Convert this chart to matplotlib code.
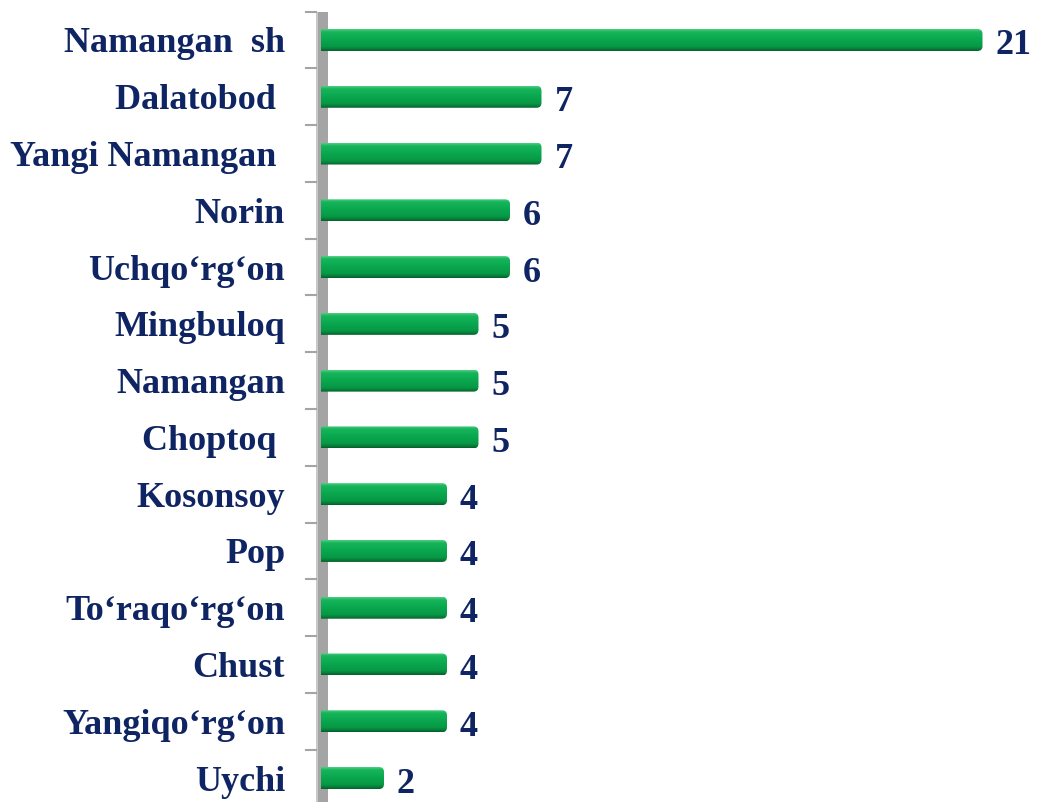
import numpy as np
import matplotlib
matplotlib.use("Agg")
import matplotlib.pyplot as plt
from matplotlib.patches import FancyBboxPatch, Rectangle
from matplotlib.colors import LinearSegmentedColormap
from matplotlib.lines import Line2D

categories = ["Namangan  sh", "Dalatobod ", "Yangi Namangan ", "Norin", "Uchqo‘rg‘on",
              "Mingbuloq", "Namangan", "Choptoq ", "Kosonsoy", "Pop", "To‘raqo‘rg‘on",
              "Chust", "Yangiqo‘rg‘on", "Uychi"]
values = [21, 7, 7, 6, 6, 5, 5, 5, 4, 4, 4, 4, 4, 2]

W, H = 1039, 803
DPI = 100
fig = plt.figure(figsize=(W / DPI, H / DPI), dpi=DPI)
fig.patch.set_facecolor("white")

x0_px = 321
px_per_unit = 31.5
top_px, bot_px = 12.6, 807.4
ax = fig.add_axes([x0_px / W, 1 - bot_px / H, (W - x0_px) / W, (bot_px - top_px) / H])
n = len(categories)
ax.set_xlim(0, (W - x0_px) / px_per_unit)
ax.set_ylim(n - 0.5, -0.5)
ax.axis("off")

row_px = (bot_px - top_px) / n
ux = 1 / px_per_unit
uy = 1 / row_px

navy = "#0f2462"
font = "Liberation Serif"
fs = 26

# gray axis bar
ax.add_patch(Rectangle((-5 * ux, -0.5), 12 * ux, n + 1, facecolor="#a4a4a4",
                       edgecolor="none", clip_on=False, zorder=1))
ax.add_patch(Rectangle((-5 * ux, -0.5), 2 * ux, n + 1, facecolor="#c8c8c8",
                       edgecolor="none", clip_on=False, zorder=1))
for b in np.arange(-0.5, n, 1.0):
    ax.add_line(Line2D([-15 * ux, -5 * ux], [b, b], color="#a4a4a4", lw=1.5,
                       clip_on=False, zorder=1))

cmap = LinearSegmentedColormap.from_list(
    "g", [(0.0, "#4fcf80"), (0.12, "#18b55c"), (0.45, "#0aa84f"),
          (0.8, "#079845"), (0.92, "#067a37"), (1.0, "#055e2b")])
grad = np.linspace(0, 1, 100).reshape(-1, 1)

bh = 22 * uy
for i, (c, v) in enumerate(zip(categories, values)):
    y0 = i - bh / 2
    patch = FancyBboxPatch((-0.4, y0), v + 0.4, bh,
                           boxstyle=f"round,pad=0,rounding_size={5*ux}",
                           mutation_aspect=(uy / ux), facecolor="none",
                           edgecolor="none", zorder=2)
    ax.add_patch(patch)
    im = ax.imshow(grad, cmap=cmap, aspect="auto", extent=(0, v, y0 + bh, y0),
                   zorder=3, interpolation="bilinear")
    im.set_clip_path(patch)
    ax.text(-36 * ux, i + 3 * uy, c, ha="right", va="center", fontsize=fs, color=navy,
            fontfamily=font, fontweight="bold", clip_on=False)
    ax.text(v + 13 * ux, i + 5 * uy, str(v), ha="left", va="center", fontsize=fs,
            color=navy, fontfamily=font, fontweight="bold")

fig.savefig("out.png", dpi=DPI, facecolor="white")
